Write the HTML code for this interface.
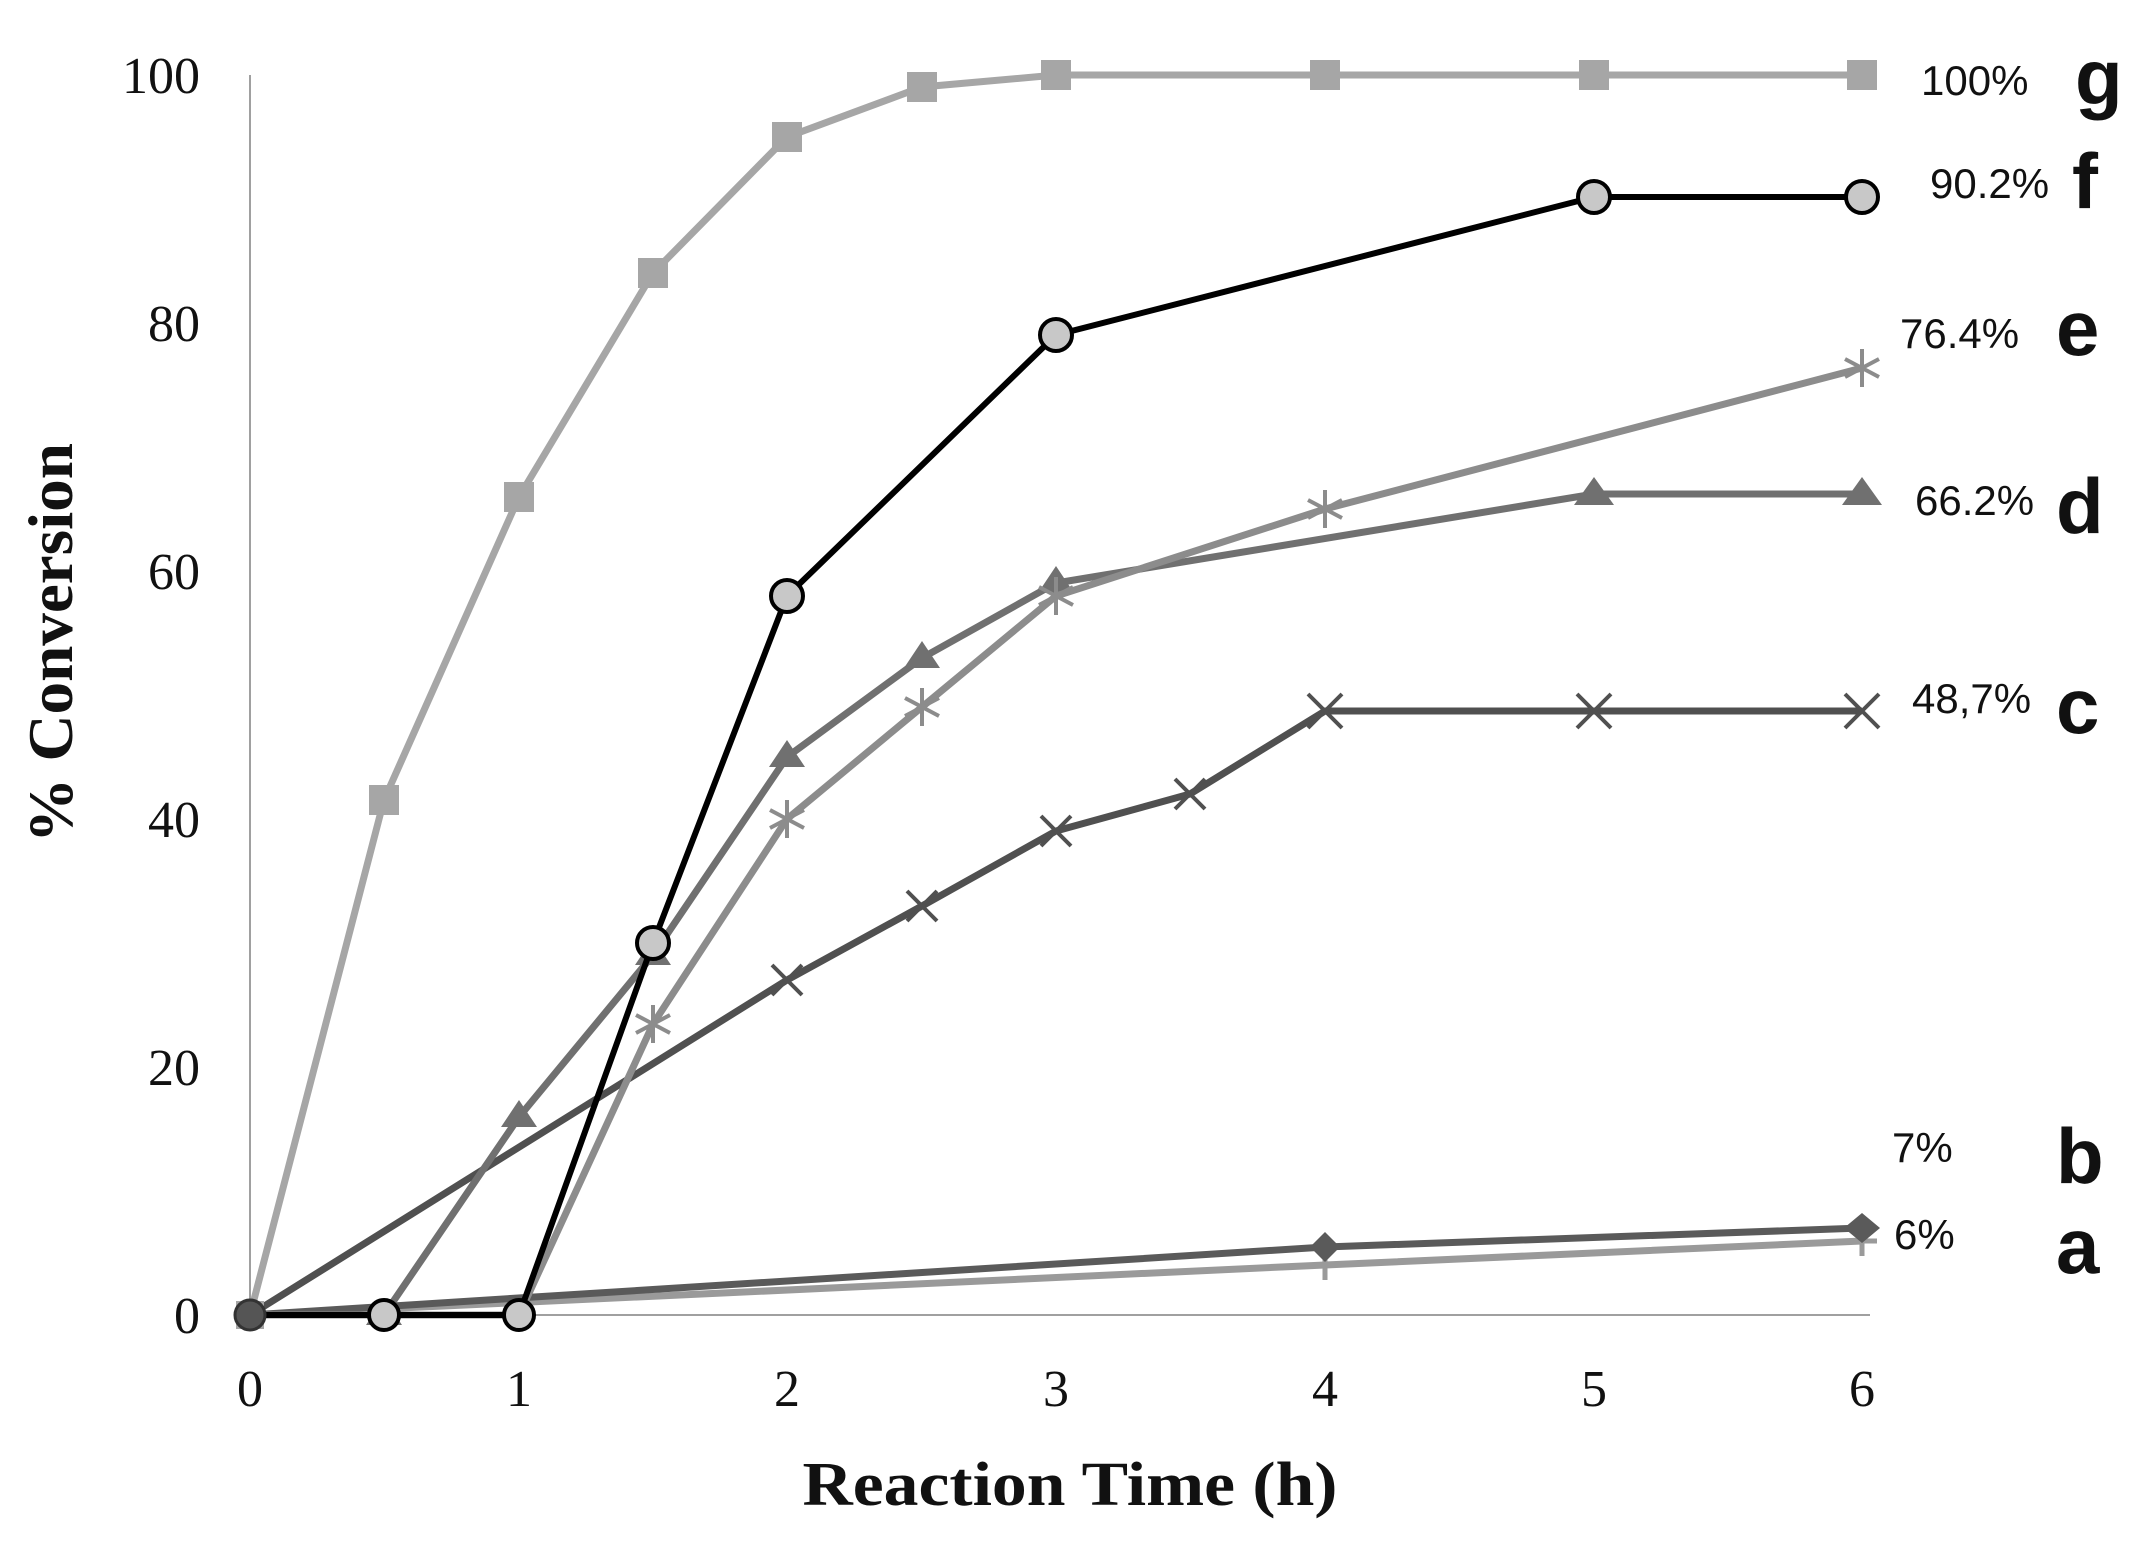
<!DOCTYPE html>
<html><head><meta charset="utf-8"><style>
html,body{margin:0;padding:0;background:#fff;}
svg{display:block;}
</style></head><body>
<svg width="2144" height="1545" viewBox="0 0 2144 1545" xmlns="http://www.w3.org/2000/svg">
<defs>
<g id="ast"><path d="M-17,-9 L17,9 M-17,9 L17,-9 M0,-19 L0,19" stroke-width="4" fill="none"/></g>
</defs>
<rect width="2144" height="1545" fill="#fff"/>
<line x1="250" y1="75" x2="250" y2="1315" stroke="#a0a0a0" stroke-width="2"/>
<line x1="250" y1="1315" x2="1870" y2="1315" stroke="#a0a0a0" stroke-width="2"/>
<g font-family="Liberation Serif, serif" font-size="52" fill="#111" text-anchor="end">
<text x="200" y="93">100</text>
<text x="200" y="341">80</text>
<text x="200" y="589">60</text>
<text x="200" y="837">40</text>
<text x="200" y="1085">20</text>
<text x="200" y="1333">0</text>
</g>
<g font-family="Liberation Serif, serif" font-size="52" fill="#111" text-anchor="middle">
<text x="250" y="1406">0</text>
<text x="519" y="1406">1</text>
<text x="787" y="1406">2</text>
<text x="1056" y="1406">3</text>
<text x="1325" y="1406">4</text>
<text x="1594" y="1406">5</text>
<text x="1862" y="1406">6</text>
</g>
<text x="1070" y="1505" font-family="Liberation Serif, serif" font-weight="bold" font-size="62" text-anchor="middle" fill="#111" textLength="535" lengthAdjust="spacingAndGlyphs">Reaction Time (h)</text>
<text transform="translate(72,643) rotate(-90)" font-family="Liberation Serif, serif" font-weight="bold" font-size="64" text-anchor="middle" fill="#111" textLength="400" lengthAdjust="spacingAndGlyphs">% Conversion</text>

<polyline points="250,1315 1325,1265 1862,1241" fill="none" stroke="#9a9a9a" stroke-width="7"/>
<g stroke="#9a9a9a" stroke-width="5"><path d="M1325,1250 V1280 M1862,1226 V1256 M1310,1265 H1340 M1847,1241 H1877"/></g>
<polyline points="250,1315 1325,1247 1862,1228" fill="none" stroke="#5a5a5a" stroke-width="7"/>
<g fill="#5a5a5a"><path d="M1325,1232 L1340,1247 L1325,1262 L1310,1247Z"/><path d="M1862,1213 L1880,1228 L1862,1243 L1844,1228Z"/><path d="M250,1300 L265,1315 L250,1330 L235,1315Z"/></g>
<polyline points="250,1315 787,980 922,906 1056,831 1190,794 1325,711 1594,711 1862,711" fill="none" stroke="#505050" stroke-width="7"/>
<g stroke="#505050" stroke-width="4">
<path d="M772,965 l30,30 m0,-30 l-30,30 M907,891 l30,30 m0,-30 l-30,30 M1041,816 l30,30 m0,-30 l-30,30 M1175,779 l30,30 m0,-30 l-30,30 M1308,694 l34,34 m0,-34 l-34,34 M1577,694 l34,34 m0,-34 l-34,34 M1845,694 l34,34 m0,-34 l-34,34"/>
</g>
<polyline points="250,1315 384,1315 519,1117 653,955 787,757 922,658 1056,583 1594,494 1862,494" fill="none" stroke="#707070" stroke-width="7"/>
<g fill="#707070">
<path d="M384,1298 l18,27 h-36z M519,1100 l18,27 h-36z M653,938 l18,27 h-36z M787,740 l18,27 h-36z M922,641 l18,27 h-36z M1056,566 l18,27 h-36z M1594,477 l20,28 h-40z M1862,477 l20,28 h-40z"/>
</g>
<polyline points="250,1315 384,1315 519,1315 653,1024 787,819 922,707 1056,596 1325,509 1862,368" fill="none" stroke="#8c8c8c" stroke-width="7"/>
<g stroke="#8c8c8c">
<use href="#ast" x="653" y="1024"/><use href="#ast" x="787" y="819"/><use href="#ast" x="922" y="707"/><use href="#ast" x="1056" y="596"/><use href="#ast" x="1325" y="509"/><use href="#ast" x="1862" y="368"/>
</g>
<polyline points="250,1315 384,800 519,497 653,273 787,137 922,87 1056,75 1325,75 1594,75 1862,75" fill="none" stroke="#a6a6a6" stroke-width="7"/>
<g fill="#a6a6a6">
<rect x="236" y="1301" width="28" height="28"/>
<rect x="369" y="785" width="30" height="30"/><rect x="504" y="482" width="30" height="30"/><rect x="638" y="258" width="30" height="30"/><rect x="772" y="122" width="30" height="30"/><rect x="907" y="72" width="30" height="30"/><rect x="1041" y="60" width="30" height="30"/><rect x="1310" y="60" width="30" height="30"/><rect x="1579" y="60" width="30" height="30"/><rect x="1847" y="60" width="30" height="30"/>
</g>
<polyline points="250,1315 384,1315 519,1315 653,943 787,596 1056,335 1594,197 1862,197" fill="none" stroke="#000" stroke-width="6"/>
<g fill="#c8c8c8" stroke="#000" stroke-width="4">
<circle cx="384" cy="1315" r="15"/><circle cx="519" cy="1315" r="15"/><circle cx="653" cy="943" r="16"/><circle cx="787" cy="596" r="16"/><circle cx="1056" cy="335" r="16"/><circle cx="1594" cy="197" r="16"/><circle cx="1862" cy="197" r="16"/>
</g>
<circle cx="250" cy="1315" r="15" fill="#555" stroke="#333" stroke-width="3"/>

<g font-family="Liberation Sans, sans-serif" font-size="42" fill="#111">
<text x="1921" y="95">100%</text>
<text x="1930" y="198">90.2%</text>
<text x="1900" y="348">76.4%</text>
<text x="1915" y="515">66.2%</text>
<text x="1912" y="713">48,7%</text>
<text x="1892" y="1162">7%</text>
<text x="1894" y="1249">6%</text>
</g>
<g font-family="Liberation Sans, sans-serif" font-size="78" font-weight="bold" fill="#111">
<text x="2075" y="104">g</text>
<text x="2072" y="208">f</text>
<text x="2056" y="355">e</text>
<text x="2056" y="533">d</text>
<text x="2056" y="733">c</text>
<text x="2056" y="1183">b</text>
<text x="2056" y="1273">a</text>
</g>
</svg>
</body></html>
